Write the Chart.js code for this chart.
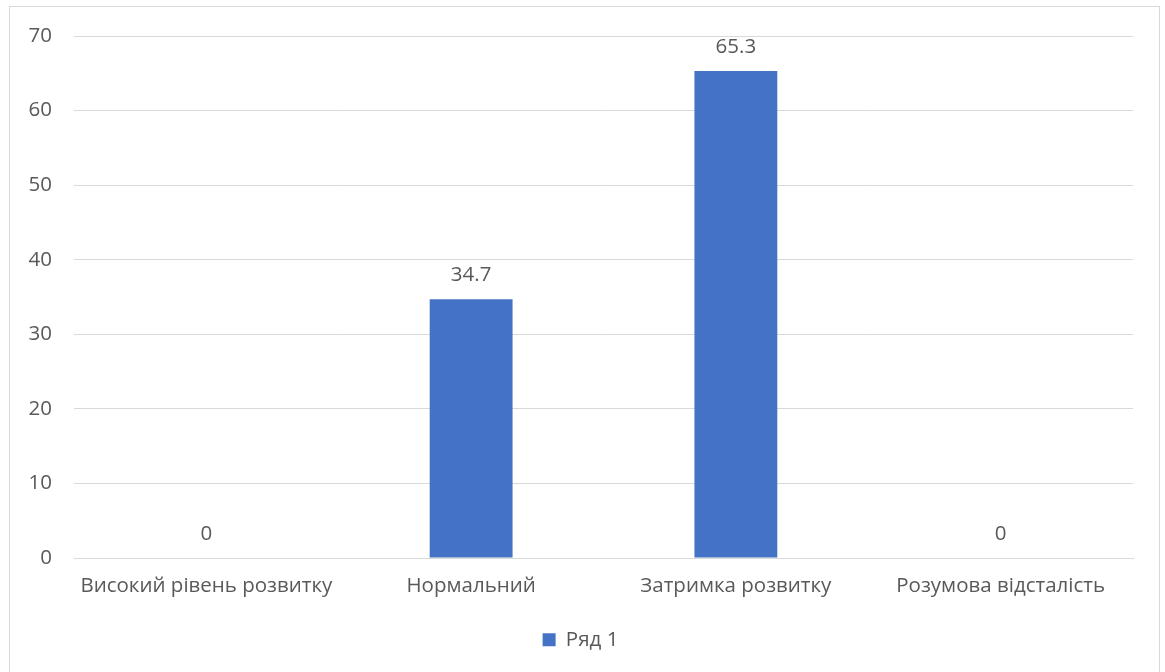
<!DOCTYPE html>
<html>
<head>
<meta charset="utf-8">
<script src="https://cdn.jsdelivr.net/npm/chart.js@4.4.1/dist/chart.umd.min.js"></script>
<style>
  html, body { margin: 0; padding: 0; background: #fff; overflow: hidden; }
  #wrap {
    position: absolute; left: 9px; top: 6px;
    width: 1151px; height: 680px;
    border: 1px solid #d9d9d9; box-sizing: border-box;
  }
  #chart { display: block; }
</style>
</head>
<body>
<div id="wrap"><canvas id="chart" width="1149" height="666"></canvas></div>
<script>
const categories = ["Високий рівень розвитку", "Нормальний", "Затримка розвитку", "Розумова відсталість"];
const values = [0, 34.7, 65.3, 0];
const seriesName = "Ряд 1";
const yTicks = [0, 10, 20, 30, 40, 50, 60, 70];

const textColor = "#595959";
const gridColor = "#d9d9d9";
const fontFamily = "'Open Sans', 'Noto Sans', sans-serif";
const fontSize = 20.5;

// value labels above each bar
const valueLabels = {
  id: "valueLabels",
  afterDatasetsDraw(chart) {
    const ctx = chart.ctx;
    const meta = chart.getDatasetMeta(0);
    ctx.save();
    ctx.font = fontSize + "px " + fontFamily;
    ctx.fillStyle = textColor;
    ctx.textAlign = "center";
    ctx.textBaseline = "middle";
    meta.data.forEach((bar, i) => {
      ctx.fillText(String(values[i]), bar.x, bar.y - 24);
    });
    ctx.restore();
  }
};

const ctx = document.getElementById("chart").getContext("2d");
new Chart(ctx, {
  type: "bar",
  data: {
    labels: categories,
    datasets: [{
      label: seriesName,
      data: values,
      backgroundColor: "#4472c4",
      categoryPercentage: 1,
      barPercentage: 0.313
    }]
  },
  options: {
    responsive: false,
    animation: false,
    layout: { padding: { left: 18, right: 26, top: 29, bottom: 13 } },
    plugins: {
      tooltip: { enabled: false },
      legend: {
        position: "bottom",
        labels: {
          color: textColor,
          font: { family: fontFamily, size: fontSize },
          usePointStyle: true,
          pointStyle: "rect",
          boxWidth: 13,
          boxHeight: 13,
          padding: 14
        }
      }
    },
    scales: {
      x: {
        grid: { display: false, drawTicks: false },
        border: { display: true, color: gridColor, width: 1 },
        ticks: {
          color: textColor,
          font: { family: fontFamily, size: fontSize },
          padding: 16,
          maxRotation: 0
        },
        afterFit(scale) { scale.height = 57.5; }
      },
      y: {
        min: 0,
        max: 70,
        afterBuildTicks(scale) { scale.ticks = yTicks.map(v => ({ value: v })); },
        // invisible tick marks give the gap between labels and plot
        grid: { color: gridColor, drawTicks: true, tickLength: 22, tickColor: "rgba(0,0,0,0)" },
        border: { display: false },
        ticks: {
          color: textColor,
          font: { family: fontFamily, size: fontSize },
          padding: 0
        },
        afterFit(scale) { scale.width = 46; }
      }
    }
  },
  plugins: [valueLabels]
});
</script>
</body>
</html>
